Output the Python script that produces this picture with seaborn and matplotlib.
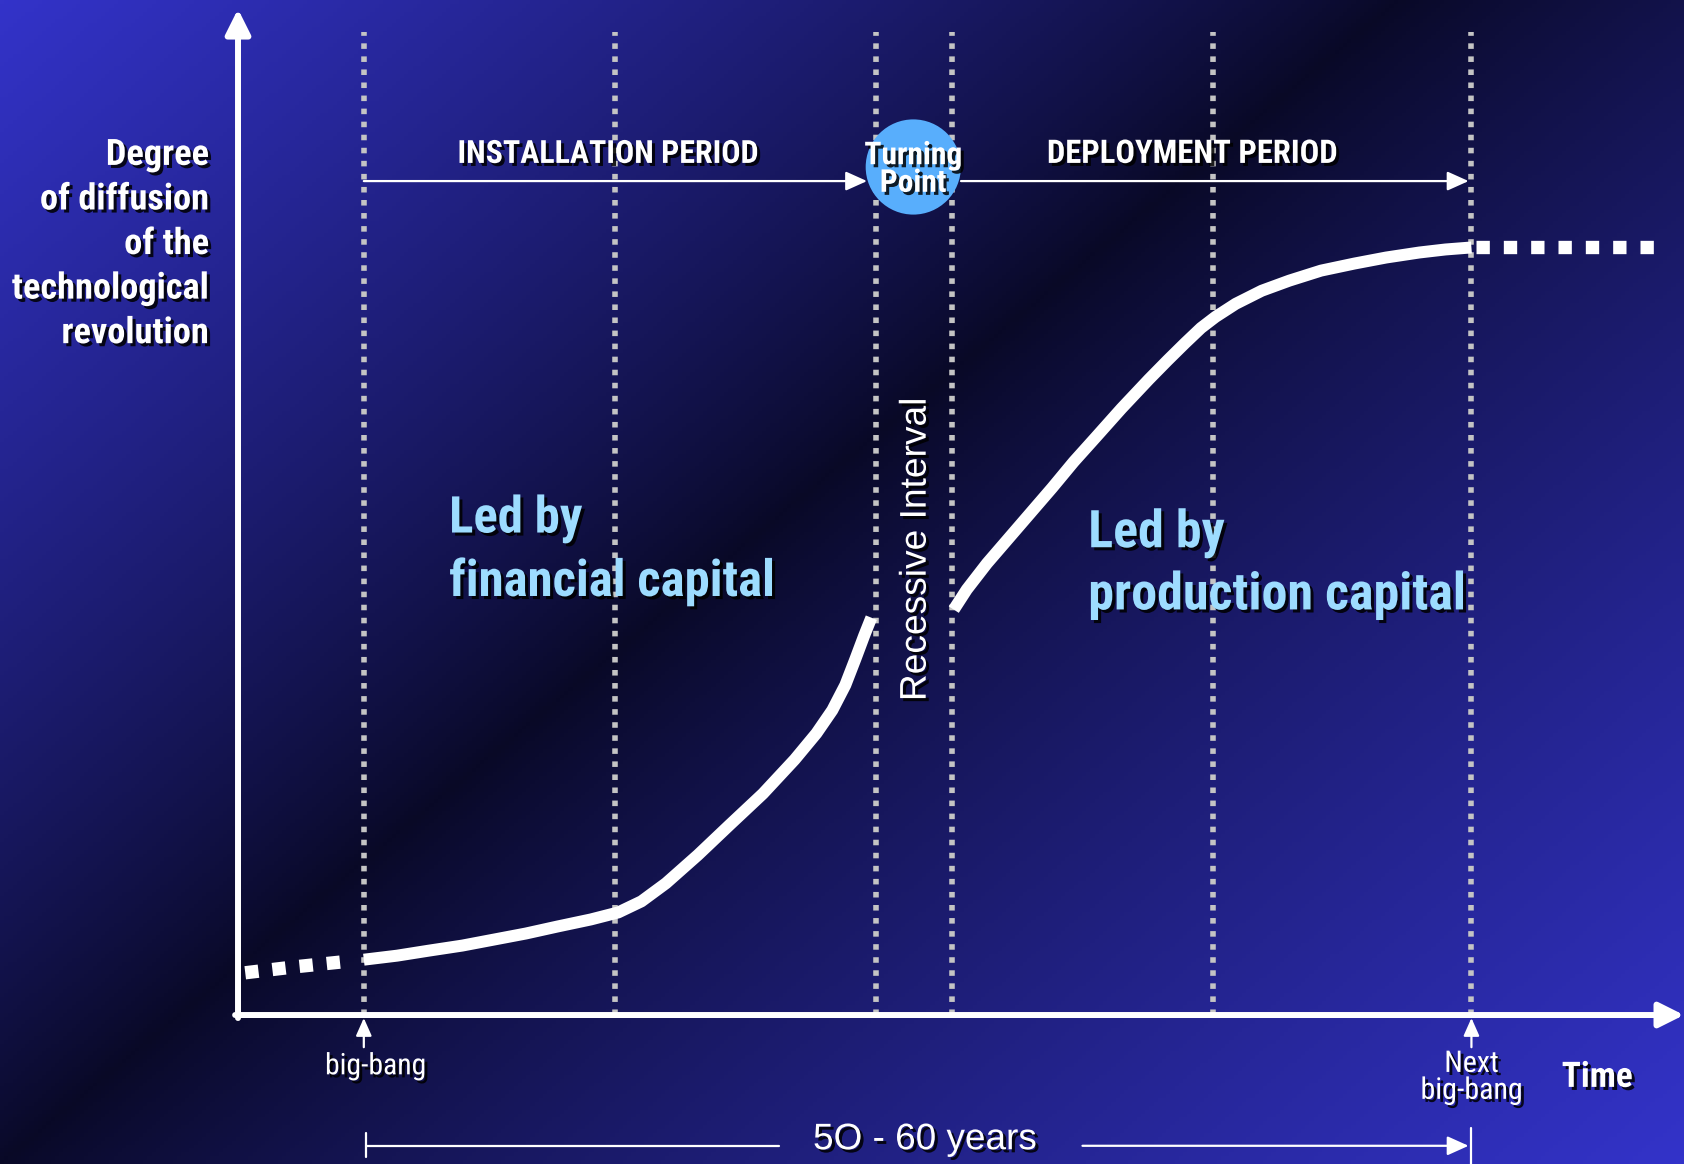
import numpy as np
import matplotlib
matplotlib.use("Agg")
import matplotlib.pyplot as plt
import matplotlib.patheffects as pe
from matplotlib import font_manager
import seaborn as sns

# ---------------------------------------------------------------------------
# Data: time runs 0..100 along the horizontal axis, diffusion 0..100 upward
# ---------------------------------------------------------------------------
phase_bounds = [8.7, 26.1, 44.1, 49.4, 67.4, 85.3]   # big-bang ... next big-bang

# installation period (financial capital) - solid part
install_t = [8.7, 11.0, 13.2, 15.5, 17.7, 19.9, 22.1, 24.4, 26.3, 27.9, 29.6,
             31.8, 34.0, 36.3, 38.5, 40.0, 41.1, 42.0, 42.7, 43.3, 43.8]
install_d = [5.5, 5.9, 6.4, 6.9, 7.5, 8.1, 8.8, 9.5, 10.2, 11.3, 13.1,
             15.9, 18.9, 22.0, 25.4, 28.0, 30.3, 32.8, 35.4, 37.7, 39.5]

# deployment period (production capital) - solid part
deploy_t = [49.5, 50.4, 51.8, 53.3, 54.8, 56.3, 57.8, 59.3, 61.1, 63.0, 64.3,
            65.5, 66.6, 67.6, 69.0, 70.8, 72.7, 74.9, 77.2, 79.4, 81.7, 83.5, 85.3]
deploy_d = [40.3, 42.3, 44.9, 47.4, 49.9, 52.4, 55.0, 57.4, 60.3, 63.2, 65.1,
            66.8, 68.3, 69.4, 70.7, 72.0, 73.0, 74.0, 74.7, 75.3, 75.8, 76.1, 76.3]

# dotted lead-in and continuation
lead_t, lead_d = [0.5, 4.0, 8.0], [4.2, 4.8, 5.4]
tail_t, tail_d = [85.6, 98.3], [76.3, 76.3]

period_names = ["INSTALLATION PERIOD", "DEPLOYMENT PERIOD"]
period_label_x = [25.6, 66.0]
ylabel_lines = ["Degree", "of diffusion", "of the", "technological", "revolution"]

# ---------------------------------------------------------------------------
sns.set_theme(style="white")
ttf = font_manager.fontManager.ttflist
names = {f.name for f in ttf}
REGULAR = "Liberation Sans" if "Liberation Sans" in names else "DejaVu Sans"


def pick_narrow():
    for fam in ["Liberation Sans Narrow", "Roboto Condensed", "Arial Narrow",
                "Open Sans Condensed", "Noto Sans Condensed"]:
        if fam in names:
            return fam, "normal"
    for fam in ["Noto Sans", "Roboto", "DejaVu Sans", "Open Sans"]:
        if any(f.name == fam and f.stretch == "condensed" for f in ttf):
            return fam, "condensed"
    return REGULAR, "normal"


NARROW, NSTRETCH = pick_narrow()
plt.rcParams["font.family"] = [REGULAR, "DejaVu Sans"]

W, H = 1684, 1164
fig = plt.figure(figsize=(W / 100, H / 100), dpi=100)
ax = fig.add_axes([0, 0, 1, 1])
XL, XR = -16.46, 100.0
YB, YT = -14.81, 100.9
ax.set_xlim(XL, XR)
ax.set_ylim(YB, YT)
ax.set_axis_off()

# background: bright blue corners top-left / bottom-right, dark navy band between
gx = np.linspace(0, 1, 400)
gy = np.linspace(0, 1, 300)
GX, GY = np.meshgrid(gx, gy)
t = GX / 0.83 + GY
f = np.where(t < 1.0, 1.0 - t, (t - 1.0) / 1.2)
f = np.clip(f, 0, 1) ** 0.85
blue = np.array([0.200, 0.200, 0.790])
dark = np.array([0.035, 0.035, 0.150])
img = dark + (blue - dark) * f[..., None]
ax.imshow(img, extent=(XL, XR, YB, YT), origin="upper", aspect="auto", zorder=0)

shadow = [pe.withSimplePatchShadow(offset=(2.2, -2.2), shadow_rgbFace="black", alpha=0.85)]
renderer = fig.canvas.get_renderer()


def fit(txt, target_px, vertical=False):
    """Scale a text's font size so its extent matches the wanted length."""
    bb = txt.get_window_extent(renderer)
    size = bb.height if vertical else bb.width
    txt.set_fontsize(txt.get_fontsize() * target_px / size)
    return txt


def narrow_text(x, y, s, size, width=None, **kw):
    kw.setdefault("fontweight", "bold")
    txt = ax.text(x, y, s, family=NARROW, fontstretch=NSTRETCH, fontsize=size,
                  path_effects=shadow, zorder=6, **kw)
    return fit(txt, width) if width else txt


# phase boundaries
ax.vlines(phase_bounds, 0, 97.7, colors="#c4c4c4", linewidth=4.0,
          linestyles=(0, (1, 1.35)), zorder=2)

# axes with arrowheads
arrow_kw = dict(arrowstyle="-|>,head_length=1.0,head_width=0.5", color="white",
                lw=4.3, mutation_scale=15, shrinkA=0, shrinkB=0)
ax.annotate("", xy=(0, 100), xytext=(0, -0.3), arrowprops=arrow_kw, zorder=5)
ax.annotate("", xy=(100, 0), xytext=(-0.2, 0), arrowprops=arrow_kw, zorder=5)

# diffusion curve
for tt, dd in [(install_t, install_d), (deploy_t, deploy_d)]:
    sns.lineplot(x=tt, y=dd, ax=ax, color="white", linewidth=8.6, sort=False,
                 solid_capstyle="butt", solid_joinstyle="round", zorder=4)
for tt, dd in [(lead_t, lead_d), (tail_t, tail_d)]:
    sns.lineplot(x=tt, y=dd, ax=ax, color="white", linewidth=9.6, sort=False,
                 linestyle=(0, (1, 1.05)), dash_capstyle="butt", zorder=4)

# period arrows along the top
thin = dict(arrowstyle="-|>,head_length=1.0,head_width=0.45", color="white",
            lw=1.6, mutation_scale=13, shrinkA=0, shrinkB=0)
ax.annotate("", xy=(43.5, 82.9), xytext=(phase_bounds[0], 82.9), arrowprops=thin, zorder=3)
ax.annotate("", xy=(85.1, 82.9), xytext=(50.0, 82.9), arrowprops=thin, zorder=3)
for name, px, wpx in zip(period_names, period_label_x, [300, 290]):
    narrow_text(px, 85.6, name, 22, wpx, ha="center", va="center", color="white")

# turning point
ax.scatter([46.7], [84.3], s=4700, color="#58aefc", edgecolor="none", zorder=6)
narrow_text(46.7, 84.1, "Turning\nPoint", 22, 98, ha="center", va="center",
            color="white", linespacing=0.9).set_zorder(7)

# y-axis title, one row per line, right aligned against the axis
rows = [narrow_text(-2.0, 85.5 - i * 4.43, line, 27, ha="right", va="center",
                    color="white")
        for i, line in enumerate(ylabel_lines)]
widest = max(r.get_window_extent(renderer).width for r in rows)
for r in rows:
    r.set_fontsize(27 * 197 / widest)

# region captions
narrow_text(14.6, 46.2, "Led by\nfinancial capital", 38, 326, ha="left",
            va="center", color="#9ddcff", linespacing=1.3)
narrow_text(58.8, 44.8, "Led by\nproduction capital", 38, 378, ha="left",
            va="center", color="#9ddcff", linespacing=1.3)
rec = ax.text(46.9, 46.3, "Recessive Interval", rotation=90, ha="center",
              va="center", color="white", fontsize=26, family=REGULAR,
              path_effects=shadow, zorder=6)
fit(rec, 303, vertical=True)

# big-bang markers
small = dict(arrowstyle="-|>,head_length=0.9,head_width=0.4", color="white",
             lw=1.6, mutation_scale=12, shrinkA=0, shrinkB=0)
ax.annotate("", xy=(phase_bounds[0], -0.3), xytext=(phase_bounds[0], -3.2),
            arrowprops=small, zorder=6)
ax.annotate("", xy=(phase_bounds[-1], -0.3), xytext=(phase_bounds[-1], -3.2),
            arrowprops=small, zorder=6)
narrow_text(9.5, -5.1, "big-bang", 23, 102, ha="center", va="center",
            color="white", fontweight="normal")
narrow_text(phase_bounds[-1], -6.2, "Next\nbig-bang", 23, 103, ha="center",
            va="center", color="white", fontweight="normal", linespacing=0.95)
narrow_text(94.0, -6.2, "Time", 27, 71, ha="center", va="center", color="white")

# cycle length bracket
ax.plot([8.84, 37.4], [-13.0, -13.0], color="white", lw=1.6, zorder=6)
ax.plot([8.84, 8.84], [-11.7, -14.1], color="white", lw=1.6, zorder=6)
ax.annotate("", xy=(85.1, -13.0), xytext=(58.4, -13.0), arrowprops=thin, zorder=6)
ax.plot([phase_bounds[-1], phase_bounds[-1]], [-11.2, YB], color="white", lw=1.6, zorder=6)
yrs = ax.text(47.5, -12.4, "5O - 60 years", ha="center", va="center", color="white",
              fontsize=26, family=REGULAR, path_effects=shadow, zorder=6)
fit(yrs, 224)

fig.savefig("out.png", dpi=100)
